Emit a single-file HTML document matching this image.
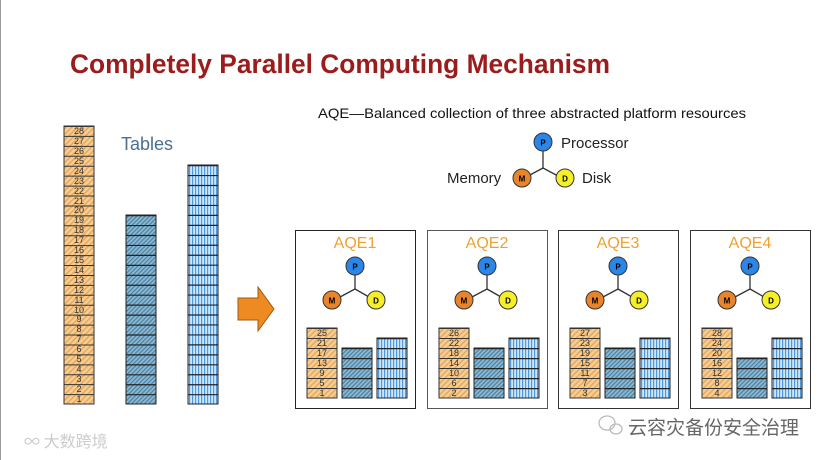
<!DOCTYPE html>
<html><head><meta charset="utf-8"><style>
html,body{margin:0;padding:0;background:#fff;}
svg{display:block;font-family:"Liberation Sans","Noto Sans CJK SC",sans-serif;}
</style></head><body>
<svg width="837" height="460" viewBox="0 0 837 460" xmlns="http://www.w3.org/2000/svg">
<defs>
<pattern id="oh" patternUnits="userSpaceOnUse" width="4" height="4" patternTransform="rotate(45)"><rect width="4" height="4" fill="#f8cd90"/><rect width="1.3" height="4" fill="#e2a45e"/></pattern>
<pattern id="bh" patternUnits="userSpaceOnUse" width="3" height="3" patternTransform="rotate(45)"><rect width="3" height="3" fill="#8dbad4"/><rect width="1.2" height="3" fill="#4a7f9f"/></pattern>
<pattern id="vs" patternUnits="userSpaceOnUse" width="3" height="4"><rect width="3" height="4" fill="#cde7ff"/><rect width="1.2" height="4" fill="#4f9ae0"/></pattern>
</defs>
<line x1="0.5" y1="0" x2="0.5" y2="460" stroke="#999" stroke-width="1"/>
<text x="70" y="73" font-size="27" font-weight="bold" fill="#9b1c1c" textLength="540" lengthAdjust="spacingAndGlyphs">Completely Parallel Computing Mechanism</text>
<text x="121" y="150" font-size="18" fill="#4a7090">Tables</text>

<rect x="64" y="126" width="30" height="278" fill="url(#oh)" stroke="#333"/>
<line x1="79" y1="126" x2="79" y2="404" stroke="#333" stroke-width="30" stroke-dasharray="1 8.93"/>
<g font-size="9" fill="#333" text-anchor="middle">
<text x="79" y="134">28</text><text x="79" y="144">27</text><text x="79" y="154">26</text><text x="79" y="164">25</text><text x="79" y="174">24</text><text x="79" y="184">23</text><text x="79" y="194">22</text><text x="79" y="204">21</text><text x="79" y="213">20</text><text x="79" y="223">19</text><text x="79" y="233">18</text><text x="79" y="243">17</text><text x="79" y="253">16</text><text x="79" y="263">15</text><text x="79" y="273">14</text><text x="79" y="283">13</text><text x="79" y="293">12</text><text x="79" y="303">11</text><text x="79" y="313">10</text><text x="79" y="322">9</text><text x="79" y="332">8</text><text x="79" y="342">7</text><text x="79" y="352">6</text><text x="79" y="362">5</text><text x="79" y="372">4</text><text x="79" y="382">3</text><text x="79" y="392">2</text><text x="79" y="402">1</text>
</g>
<rect x="126" y="215" width="30" height="189" fill="url(#bh)" stroke="#222"/>
<line x1="141" y1="215" x2="141" y2="404" stroke="#222" stroke-width="30" stroke-dasharray="1.2 8.75"/>
<rect x="188" y="165" width="30" height="239" fill="url(#vs)" stroke="#222"/>
<line x1="203" y1="165" x2="203" y2="404" stroke="#222" stroke-width="30" stroke-dasharray="1.2 8.76"/>

<polygon points="238,298 258,298 258,287 274,309 258,331 258,320 238,320" fill="#ee8a22" stroke="#a05a10" stroke-width="1"/>

<text x="318" y="118" font-size="14" fill="#111" textLength="428" lengthAdjust="spacingAndGlyphs">AQE—Balanced collection of three abstracted platform resources</text>
<g stroke="#333" stroke-width="1.3"><line x1="543" y1="151" x2="543" y2="168"/><line x1="543" y1="168" x2="528" y2="176"/><line x1="543" y1="168" x2="558" y2="176"/></g>
<circle cx="543" cy="142" r="9" fill="#2b86e8" stroke="#333"/><text x="543" y="145.5" font-size="8" font-weight="bold" text-anchor="middle">P</text>
<circle cx="522" cy="178" r="9" fill="#e8842a" stroke="#333"/><text x="522" y="181.5" font-size="8" font-weight="bold" text-anchor="middle">M</text>
<circle cx="565" cy="178" r="9" fill="#f5ef2a" stroke="#333"/><text x="565" y="181.5" font-size="8" font-weight="bold" text-anchor="middle">D</text>
<text x="561" y="148" font-size="15" fill="#222">Processor</text>
<text x="447" y="183" font-size="15" fill="#222">Memory</text>
<text x="582" y="183" font-size="15" fill="#222">Disk</text>

<g>
<rect x="295.5" y="230.5" width="120" height="178" fill="#fff" stroke="#222"/>
<text x="355" y="248" font-size="16" fill="#f0a030" text-anchor="middle">AQE1</text>
<g stroke="#333" stroke-width="1.3"><line x1="355" y1="275" x2="355" y2="289"/><line x1="355" y1="289" x2="340" y2="297"/><line x1="355" y1="289" x2="369" y2="297"/></g>
<circle cx="355" cy="266" r="9" fill="#2b86e8" stroke="#333"/><text x="355" y="269.5" font-size="8" font-weight="bold" text-anchor="middle">P</text>
<circle cx="332" cy="300" r="9" fill="#e8842a" stroke="#333"/><text x="332" y="303.5" font-size="8" font-weight="bold" text-anchor="middle">M</text>
<circle cx="376" cy="300" r="9" fill="#f5ef2a" stroke="#333"/><text x="376" y="303.5" font-size="8" font-weight="bold" text-anchor="middle">D</text>
<rect x="307" y="328" width="30" height="70" fill="url(#oh)" stroke="#333"/>
<line x1="322" y1="328" x2="322" y2="398" stroke="#333" stroke-width="30" stroke-dasharray="1 9"/>
<rect x="342" y="348" width="30" height="50" fill="url(#bh)" stroke="#222"/>
<line x1="357" y1="348" x2="357" y2="398" stroke="#222" stroke-width="30" stroke-dasharray="1.2 8.8"/>
<rect x="377" y="338" width="30" height="60" fill="url(#vs)" stroke="#222"/>
<line x1="392" y1="338" x2="392" y2="398" stroke="#222" stroke-width="30" stroke-dasharray="1.2 8.8"/>
<g font-size="9" fill="#333" text-anchor="middle"><text x="322" y="336">25</text><text x="322" y="346">21</text><text x="322" y="356">17</text><text x="322" y="366">13</text><text x="322" y="376">9</text><text x="322" y="386">5</text><text x="322" y="396">1</text></g>
</g>

<g transform="translate(132,0)">
<rect x="295.5" y="230.5" width="120" height="178" fill="#fff" stroke="#555"/>
<text x="355" y="248" font-size="16" fill="#f0a030" text-anchor="middle">AQE2</text>
<g stroke="#333" stroke-width="1.3"><line x1="355" y1="275" x2="355" y2="289"/><line x1="355" y1="289" x2="340" y2="297"/><line x1="355" y1="289" x2="369" y2="297"/></g>
<circle cx="355" cy="266" r="9" fill="#2b86e8" stroke="#333"/><text x="355" y="269.5" font-size="8" font-weight="bold" text-anchor="middle">P</text>
<circle cx="332" cy="300" r="9" fill="#e8842a" stroke="#333"/><text x="332" y="303.5" font-size="8" font-weight="bold" text-anchor="middle">M</text>
<circle cx="376" cy="300" r="9" fill="#f5ef2a" stroke="#333"/><text x="376" y="303.5" font-size="8" font-weight="bold" text-anchor="middle">D</text>
<rect x="307" y="328" width="30" height="70" fill="url(#oh)" stroke="#333"/>
<line x1="322" y1="328" x2="322" y2="398" stroke="#333" stroke-width="30" stroke-dasharray="1 9"/>
<rect x="342" y="348" width="30" height="50" fill="url(#bh)" stroke="#222"/>
<line x1="357" y1="348" x2="357" y2="398" stroke="#222" stroke-width="30" stroke-dasharray="1.2 8.8"/>
<rect x="377" y="338" width="30" height="60" fill="url(#vs)" stroke="#222"/>
<line x1="392" y1="338" x2="392" y2="398" stroke="#222" stroke-width="30" stroke-dasharray="1.2 8.8"/>
<g font-size="9" fill="#333" text-anchor="middle"><text x="322" y="336">26</text><text x="322" y="346">22</text><text x="322" y="356">18</text><text x="322" y="366">14</text><text x="322" y="376">10</text><text x="322" y="386">6</text><text x="322" y="396">2</text></g>
</g>

<g transform="translate(263,0)">
<rect x="295.5" y="230.5" width="120" height="178" fill="#fff" stroke="#333"/>
<text x="355" y="248" font-size="16" fill="#f0a030" text-anchor="middle">AQE3</text>
<g stroke="#333" stroke-width="1.3"><line x1="355" y1="275" x2="355" y2="289"/><line x1="355" y1="289" x2="340" y2="297"/><line x1="355" y1="289" x2="369" y2="297"/></g>
<circle cx="355" cy="266" r="9" fill="#2b86e8" stroke="#333"/><text x="355" y="269.5" font-size="8" font-weight="bold" text-anchor="middle">P</text>
<circle cx="332" cy="300" r="9" fill="#e8842a" stroke="#333"/><text x="332" y="303.5" font-size="8" font-weight="bold" text-anchor="middle">M</text>
<circle cx="376" cy="300" r="9" fill="#f5ef2a" stroke="#333"/><text x="376" y="303.5" font-size="8" font-weight="bold" text-anchor="middle">D</text>
<rect x="307" y="328" width="30" height="70" fill="url(#oh)" stroke="#333"/>
<line x1="322" y1="328" x2="322" y2="398" stroke="#333" stroke-width="30" stroke-dasharray="1 9"/>
<rect x="342" y="348" width="30" height="50" fill="url(#bh)" stroke="#222"/>
<line x1="357" y1="348" x2="357" y2="398" stroke="#222" stroke-width="30" stroke-dasharray="1.2 8.8"/>
<rect x="377" y="338" width="30" height="60" fill="url(#vs)" stroke="#222"/>
<line x1="392" y1="338" x2="392" y2="398" stroke="#222" stroke-width="30" stroke-dasharray="1.2 8.8"/>
<g font-size="9" fill="#333" text-anchor="middle"><text x="322" y="336">27</text><text x="322" y="346">23</text><text x="322" y="356">19</text><text x="322" y="366">15</text><text x="322" y="376">11</text><text x="322" y="386">7</text><text x="322" y="396">3</text></g>
</g>

<g transform="translate(395,0)">
<rect x="295.5" y="230.5" width="120" height="178" fill="#fff" stroke="#333"/>
<text x="355" y="248" font-size="16" fill="#f0a030" text-anchor="middle">AQE4</text>
<g stroke="#333" stroke-width="1.3"><line x1="355" y1="275" x2="355" y2="289"/><line x1="355" y1="289" x2="340" y2="297"/><line x1="355" y1="289" x2="369" y2="297"/></g>
<circle cx="355" cy="266" r="9" fill="#2b86e8" stroke="#333"/><text x="355" y="269.5" font-size="8" font-weight="bold" text-anchor="middle">P</text>
<circle cx="332" cy="300" r="9" fill="#e8842a" stroke="#333"/><text x="332" y="303.5" font-size="8" font-weight="bold" text-anchor="middle">M</text>
<circle cx="376" cy="300" r="9" fill="#f5ef2a" stroke="#333"/><text x="376" y="303.5" font-size="8" font-weight="bold" text-anchor="middle">D</text>
<rect x="307" y="328" width="30" height="70" fill="url(#oh)" stroke="#333"/>
<line x1="322" y1="328" x2="322" y2="398" stroke="#333" stroke-width="30" stroke-dasharray="1 9"/>
<rect x="342" y="358" width="30" height="40" fill="url(#bh)" stroke="#222"/>
<line x1="357" y1="358" x2="357" y2="398" stroke="#222" stroke-width="30" stroke-dasharray="1.2 8.8"/>
<rect x="377" y="338" width="30" height="60" fill="url(#vs)" stroke="#222"/>
<line x1="392" y1="338" x2="392" y2="398" stroke="#222" stroke-width="30" stroke-dasharray="1.2 8.8"/>
<g font-size="9" fill="#333" text-anchor="middle"><text x="322" y="336">28</text><text x="322" y="346">24</text><text x="322" y="356">20</text><text x="322" y="366">16</text><text x="322" y="376">12</text><text x="322" y="386">8</text><text x="322" y="396">4</text></g>
</g>

<text x="628" y="434" font-size="19" fill="#666" font-family="'Noto Sans CJK SC',sans-serif">云容灾备份安全治理</text>
<g fill="none" stroke="#bbb" stroke-width="1.3"><ellipse cx="607" cy="423" rx="8" ry="7"/><ellipse cx="616" cy="429" rx="6" ry="5"/></g>
<text x="24" y="447" font-size="16" fill="#ccc" font-family="'Noto Sans CJK SC',sans-serif">∞ 大数跨境</text>
</svg>
</body></html>
